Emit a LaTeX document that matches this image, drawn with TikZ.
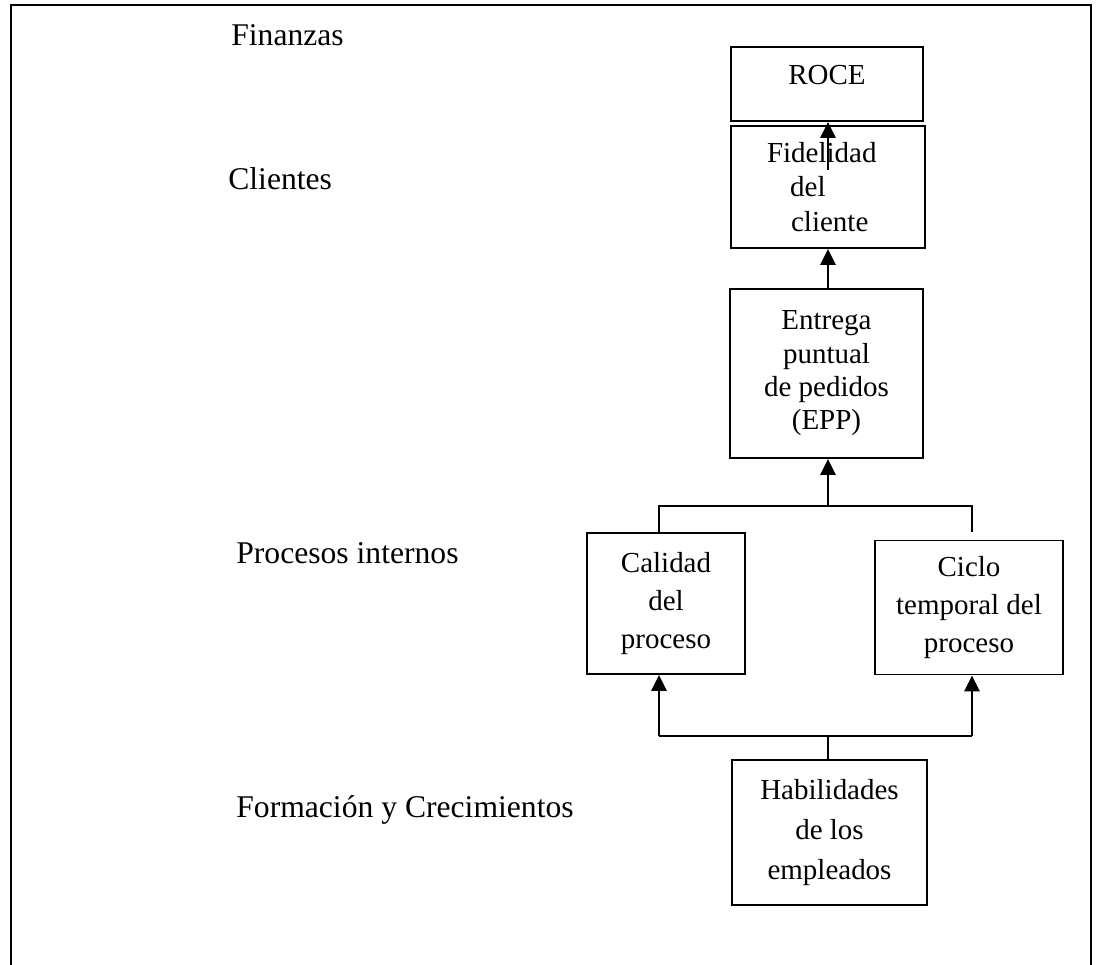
\documentclass[tikz,border=0pt]{standalone}
\usepackage{fontspec}
\setmainfont{Liberation Serif}
\usetikzlibrary{arrows.meta}
\tikzset{bx/.append style={draw,rectangle,line width=1.1pt,inner sep=0pt,align=center,font=\fontsize{16.5}{21.9}\selectfont}}
\tikzset{lb/.append style={anchor=base west,inner sep=0pt,font=\fontsize{18}{21}\selectfont}}
\tikzset{ar/.append style={line width=1.6pt,-{Triangle[width=0.3cm,length=0.32cm]}}}
\tikzset{ln/.append style={line width=1.1pt}}

\begin{document}
\begin{tikzpicture}[x=0.02cm,y=-0.02cm]
                \useasboundingbox (0,0) rectangle (1098,964);
                \draw[ln] (11,970) -- (11,5) -- (1091,5) -- (1091,970);
                % perspectivas
                \node[lb] (fin) at (231,45) {Finanzas};
                \node[lb] (cli) at (228,189) {Clientes};
                \node[lb] (pro) at (236,563) {Procesos internos};
                \node[lb] (for) at (236,817) {Formación y Crecimientos};
                % cajas
                \node[bx,minimum width=3.84cm,minimum height=1.48cm,text height=8pt,text depth=8pt] (roce) at (827,84) {ROCE};
                \node[bx,minimum width=3.88cm,minimum height=2.44cm,align=left,text width=2.44cm,inner xsep=0.72cm,font=\fontsize{16.5}{19.6}\selectfont] (fid) at (828,187) {Fidelidad\\\hspace*{0.8em}del\\\hspace*{0.83em}cliente};
                \node[bx,minimum width=3.86cm,minimum height=3.38cm,font=\fontsize{16.5}{19}\selectfont] (epp) at (826.5,373.5) {Entrega\\puntual\\de pedidos\\(EPP)};
                \node[bx,minimum width=3.16cm,minimum height=2.82cm] (cal) at (666,603.5) {Calidad\\del\\proceso};
                \node[bx,minimum width=3.76cm,minimum height=2.68cm] (cic) at (969,607.5) {Ciclo\\temporal del\\proceso};
                \node[bx,minimum width=3.9cm,minimum height=2.9cm,font=\fontsize{16.5}{22.5}\selectfont] (hab) at (829.5,832.5) {Habilidades\\de los\\empleados};
                % uniones
                \coordinate (fidt) at (828,170);
                \coordinate (jl) at (659,506);
                \coordinate (jm) at (828,506);
                \coordinate (jr) at (972,506);
                \coordinate (jre) at (972,532);
                \coordinate (bl) at (659,736);
                \coordinate (bm) at (828,736);
                \coordinate (br) at (972,736);
                \draw[ar] (fidt) -- (roce.south -| fidt);
                \draw[ar] (epp.north -| fidt) -- (fid.south -| fidt);
                \draw[ln] (cal.north -| jl) -- (jl) -- (jr) -- (jre);
                \draw[ar] (jm) -- (epp.south -| jm);
                \draw[ln] (bl) -- (br);
                \draw[ln] (hab.north -| bm) -- (bm);
                \draw[ar] (bl) -- (cal.south -| bl);
                \draw[ar] (br) -- (cic.south -| br);
            \end{tikzpicture}
\end{document}
